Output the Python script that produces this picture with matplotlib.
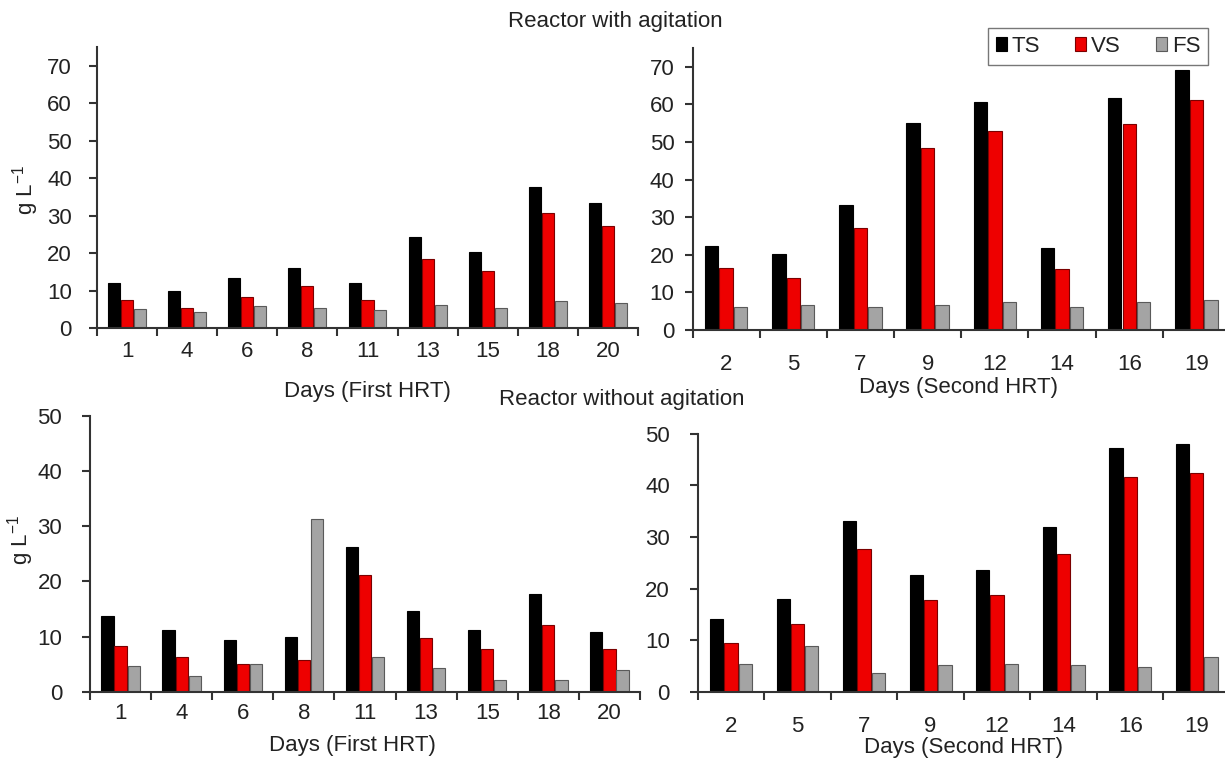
import matplotlib
matplotlib.use("Agg")
import matplotlib.pyplot as plt
import numpy as np

plt.rcParams['font.family'] = ['Liberation Sans', 'DejaVu Sans']

# ---- data ----
days_first = ['1', '4', '6', '8', '11', '13', '15', '18', '20']
days_second = ['2', '5', '7', '9', '12', '14', '16', '19']

# Reactor with agitation
agit_first_TS = [12.0, 9.8, 13.4, 16.1, 12.0, 24.2, 20.2, 37.6, 33.4]
agit_first_VS = [7.5, 5.3, 8.4, 11.2, 7.6, 18.4, 15.2, 30.7, 27.1]
agit_first_FS = [5.0, 4.4, 5.8, 5.4, 4.9, 6.2, 5.4, 7.1, 6.7]

agit_second_TS = [22.4, 20.2, 33.3, 55.1, 60.7, 21.8, 61.8, 69.2]
agit_second_VS = [16.5, 13.9, 27.0, 48.5, 52.8, 16.1, 54.7, 61.3]
agit_second_FS = [6.0, 6.6, 6.0, 6.6, 7.5, 6.0, 7.5, 8.0]

# Reactor without agitation
noag_first_TS = [13.7, 11.2, 9.4, 10.0, 26.3, 14.6, 11.2, 17.7, 10.9]
noag_first_VS = [8.3, 6.3, 5.0, 5.7, 21.1, 9.7, 7.8, 12.2, 7.8]
noag_first_FS = [4.7, 2.9, 5.0, 31.3, 6.3, 4.4, 2.2, 2.2, 3.9]

noag_second_TS = [14.1, 18.0, 33.0, 22.7, 23.6, 32.0, 47.2, 47.9]
noag_second_VS = [9.4, 13.2, 27.6, 17.8, 18.7, 26.7, 41.6, 42.3]
noag_second_FS = [5.5, 8.9, 3.6, 5.2, 5.5, 5.2, 4.8, 6.7]

series_names = ['TS', 'VS', 'FS']
face_colors = ['#000000', '#ee0000', '#a4a4a4']
edge_colors = ['#000000', '#7a0000', '#5a5a5a']

TXT = '#222222'
SPINE = '#333333'
FS_TICK = 16

W, H = 1225, 762
fig = plt.figure(figsize=(W / 100, H / 100), dpi=100)


def px_axes(left, top, right, bottom):
    return fig.add_axes([left / W, 1 - bottom / H, (right - left) / W, (bottom - top) / H])


def draw(ax, cats, ts, vs, fs, ymax, yticks, xpad, ypad):
    n = len(cats)
    x = np.arange(n) + 0.5
    bw = 0.2
    off = 0.215
    for k, vals in enumerate([ts, vs, fs]):
        ax.bar(x + (k - 1) * off, vals, width=bw, color=face_colors[k],
               edgecolor=edge_colors[k], linewidth=0.8, label=series_names[k], zorder=2)
    ax.set_xlim(0, n)
    ax.set_ylim(0, ymax)
    ax.set_xticks(np.arange(n + 1))
    ax.set_xticklabels([])
    ax.set_xticks(x, minor=True)
    ax.set_xticklabels(cats, minor=True)
    ax.tick_params(axis='x', which='major', direction='out', length=6, width=1.5, color=SPINE)
    ax.tick_params(axis='x', which='minor', length=0, pad=xpad, labelsize=FS_TICK, labelcolor=TXT)
    ax.set_yticks(yticks)
    ax.tick_params(axis='y', direction='out', length=6, width=1.5, color=SPINE, pad=ypad,
                   labelsize=FS_TICK, labelcolor=TXT)
    for s in ['top', 'right']:
        ax.spines[s].set_visible(False)
    for s in ['left', 'bottom']:
        ax.spines[s].set_color(SPINE)
        ax.spines[s].set_linewidth(1.5)


ax1 = px_axes(97, 47, 638, 328)
draw(ax1, days_first, agit_first_TS, agit_first_VS, agit_first_FS, 75, range(0, 71, 10), 9, 12)

ax2 = px_axes(692.5, 48, 1230, 330)
draw(ax2, days_second, agit_second_TS, agit_second_VS, agit_second_FS, 75, range(0, 71, 10), 17, 7)

ax3 = px_axes(90, 415.5, 640, 692)
draw(ax3, days_first, noag_first_TS, noag_first_VS, noag_first_FS, 50, range(0, 51, 10), 8, 14)

ax4 = px_axes(697.7, 433.5, 1230, 692)
draw(ax4, days_second, noag_second_TS, noag_second_VS, noag_second_FS, 50, range(0, 51, 10), 17, 14)


def ftext(xp, yp, s, **kw):
    fig.text(xp / W, 1 - yp / H, s, ha='center', va='center', color=TXT, fontsize=16, **kw)


ftext(615, 22, 'Reactor with agitation')
ftext(622, 400, 'Reactor without agitation')
ftext(367, 391, 'Days (First HRT)')
ftext(958, 388, 'Days (Second HRT)')
ftext(352, 746, 'Days (First HRT)')
ftext(964, 747, 'Days (Second HRT)')
ftext(26, 190, 'g L$^{\\mathregular{-1}}$', rotation=90)
ftext(21, 540, 'g L$^{\\mathregular{-1}}$', rotation=90)

handles, labels = ax1.get_legend_handles_labels()
leg = fig.legend(handles, labels, loc='center', bbox_to_anchor=(1098 / W, 1 - 46.5 / H),
                 ncol=3, frameon=True, fancybox=False, edgecolor='#555555',
                 handlelength=0.5, handleheight=0.55, handletextpad=0.2,
                 columnspacing=1.6, borderpad=0.35, borderaxespad=0,
                 fontsize=16, labelcolor=TXT)
leg.get_frame().set_linewidth(1.0)

fig.savefig('out.png', dpi=100)
